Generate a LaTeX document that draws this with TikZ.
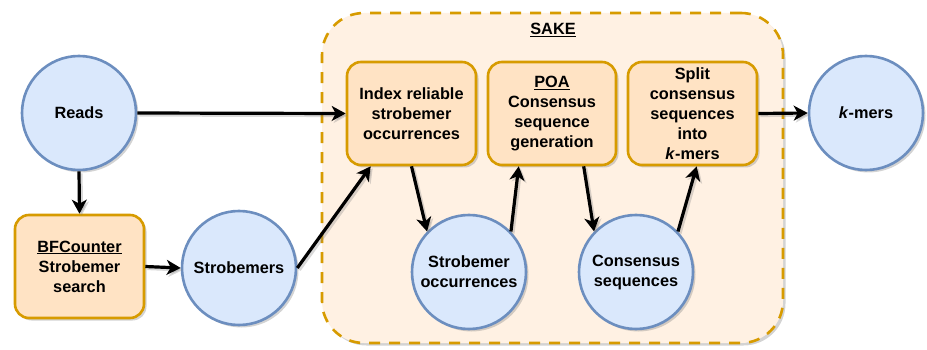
\documentclass[tikz,border=0pt]{standalone}
\usepackage{fontspec}
\setmainfont{Liberation Sans}
\usetikzlibrary{arrows.meta,shadows,positioning}
\definecolor{circfill}{HTML}{DAE8FC}
\definecolor{circline}{HTML}{6C8EBF}
\definecolor{boxfill}{HTML}{FFE3C4}
\definecolor{boxline}{HTML}{D79B00}
\definecolor{groupfill}{HTML}{FFF1E3}
\newcommand{\labelfont}{\fontsize{16.3}{20}\selectfont\bfseries}
\tikzset{
  softshadow/.style={drop shadow={shadow xshift=2.5pt,shadow yshift=-2.5pt,opacity=0.35,fill=gray}},
  datanode/.style={circle,draw=circline,fill=circfill,line width=2.6pt,minimum size=114pt,
    inner sep=0pt,align=center,font=\labelfont,softshadow},
  procnode/.style={rectangle,rounded corners=14pt,draw=boxline,fill=boxfill,line width=2.6pt,
    inner sep=0pt,align=center,font=\labelfont,softshadow},
  flow/.style={line width=3.2pt,-{Stealth[length=14pt,width=15pt,inset=4pt]},
    preaction={draw=gray,opacity=0.3,line width=3.2pt,
      transform canvas={shift={(2pt,-2pt)}}}},
}
\begin{document}
\begin{tikzpicture}[x=1pt,y=-1pt]
\useasboundingbox (0,0) rectangle (927,350);

% SAKE group
\node[draw=boxline,fill=groupfill,line width=2.6pt,dash pattern=on 11pt off 9pt,
  rounded corners=42pt,minimum width=461pt,minimum height=330pt,inner sep=0pt,softshadow]
  (sake) at (552.5,178) {};
\node[font=\labelfont] (sakelabel) at (553,30) {\underline{SAKE}};

% data nodes
\node[datanode] (reads) at (79,113) {Reads};
\node[datanode] (strob) at (239,268) {Strobemers};
\node[datanode] (socc) at (469,272) {Strobemer\\occurrences};
\node[datanode] (cons) at (636,272) {Consensus\\sequences};
\node[datanode] (kmers) at (866,113) {\textit{k}-mers};

% processing nodes
\node[procnode,minimum width=129pt,minimum height=103pt] (bfc) at (79.5,266.5)
  {\underline{BFCounter}\\Strobemer\\search};
\node[procnode,minimum width=129pt,minimum height=103pt] (index) at (411.5,113.5)
  {Index reliable\\strobemer\\occurrences};
\node[procnode,minimum width=128pt,minimum height=103pt] (poa) at (552,113.5)
  {\underline{POA}\\Consensus\\sequence\\generation};
\node[procnode,minimum width=129pt,minimum height=103pt] (split) at (692.5,113.5)
  {Split\\consensus\\sequences\\into\\\textit{k}-mers};

% connectors
\draw[flow] (reads.east) -- (index.west);
\draw[flow] (reads.south) -- (bfc.north);
\draw[flow] (bfc.east) -- (strob.west);
\draw[flow] (strob.east) -- ([xshift=25pt]index.south west);
\draw[flow] (index.south) -- (socc.136);
\draw[flow] (socc.44) -- ([xshift=32pt]poa.south west);
\draw[flow] ([xshift=97pt]poa.south west) -- (cons.136);
\draw[flow] (cons.44) -- ([xshift=70pt]split.south west);
\draw[flow] (split.east) -- (kmers.west);
\end{tikzpicture}
\end{document}
